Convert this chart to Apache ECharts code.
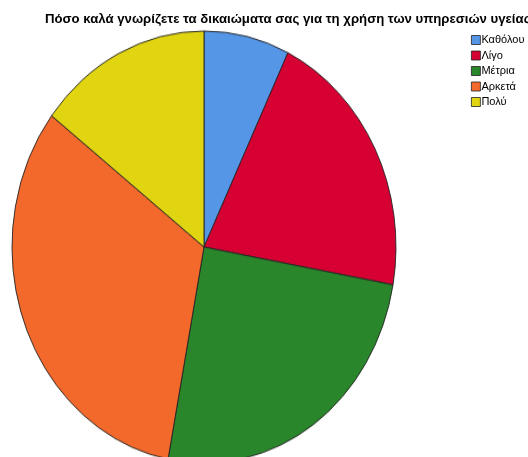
<!DOCTYPE html>
<html>
<head>
<meta charset="utf-8">
<script src="https://cdn.jsdelivr.net/npm/echarts@6/dist/echarts.min.js"></script>
<style>
html,body{margin:0;padding:0;width:528px;height:457px;overflow:hidden;background:#fff;}
#pie{position:absolute;left:0;top:0;width:528px;height:457px;transform-origin:204px 247px;transform:scaleY(1.125);}
#over{position:absolute;left:0;top:0;width:528px;height:457px;}
</style>
</head>
<body>
<div id="pie"></div>
<div id="over"></div>
<script>
const titleText = 'Πόσο καλά γνωρίζετε τα δικαιώματα σας για τη χρήση των υπηρεσιών υγείας';
const categories = ['Καθόλου', 'Λίγο', 'Μέτρια', 'Αρκετά', 'Πολύ'];
const values = [7.2, 20.6, 25.2, 32.4, 14.6];
const colors = ['#5596E6', '#D70033', '#29862A', '#F3692C', '#E1D512'];

const pieData = categories.map((c, i) => ({ name: c, value: values[i], itemStyle: { color: colors[i] } }));

const pieChart = echarts.init(document.getElementById('pie'), null, { renderer: 'canvas' });
pieChart.setOption({
  animation: false,
  series: [{
    type: 'pie',
    center: [204, 247],
    radius: 192,
    startAngle: 90,
    clockwise: true,
    label: { show: false },
    labelLine: { show: false },
    emphasis: { disabled: true },
    itemStyle: { borderColor: '#222', borderWidth: 0.9 },
    data: pieData
  }]
});

const over = echarts.init(document.getElementById('over'), null, { renderer: 'canvas' });
over.setOption({
  animation: false,
  title: {
    text: titleText,
    left: 45, top: 13, padding: 0,
    textStyle: { fontFamily: 'Liberation Sans, Arial, sans-serif', fontSize: 13.2, fontWeight: 'bold', color: '#000' }
  },
  legend: {
    orient: 'vertical',
    left: 471, top: 34,
    padding: 0,
    itemWidth: 9, itemHeight: 9,
    itemGap: 3.5,
    icon: 'rect',
    selectedMode: false,
    itemStyle: { borderColor: '#222', borderWidth: 0.8 },
    textStyle: { fontFamily: 'Liberation Sans, Arial, sans-serif', fontSize: 11, color: '#000', padding: [0, 0, 0, -4], lineHeight: 12 },
    data: categories
  },
  series: [{
    type: 'pie',
    center: [-100, -100],
    radius: 0,
    silent: true,
    label: { show: false },
    data: pieData
  }]
});
</script>
</body>
</html>
